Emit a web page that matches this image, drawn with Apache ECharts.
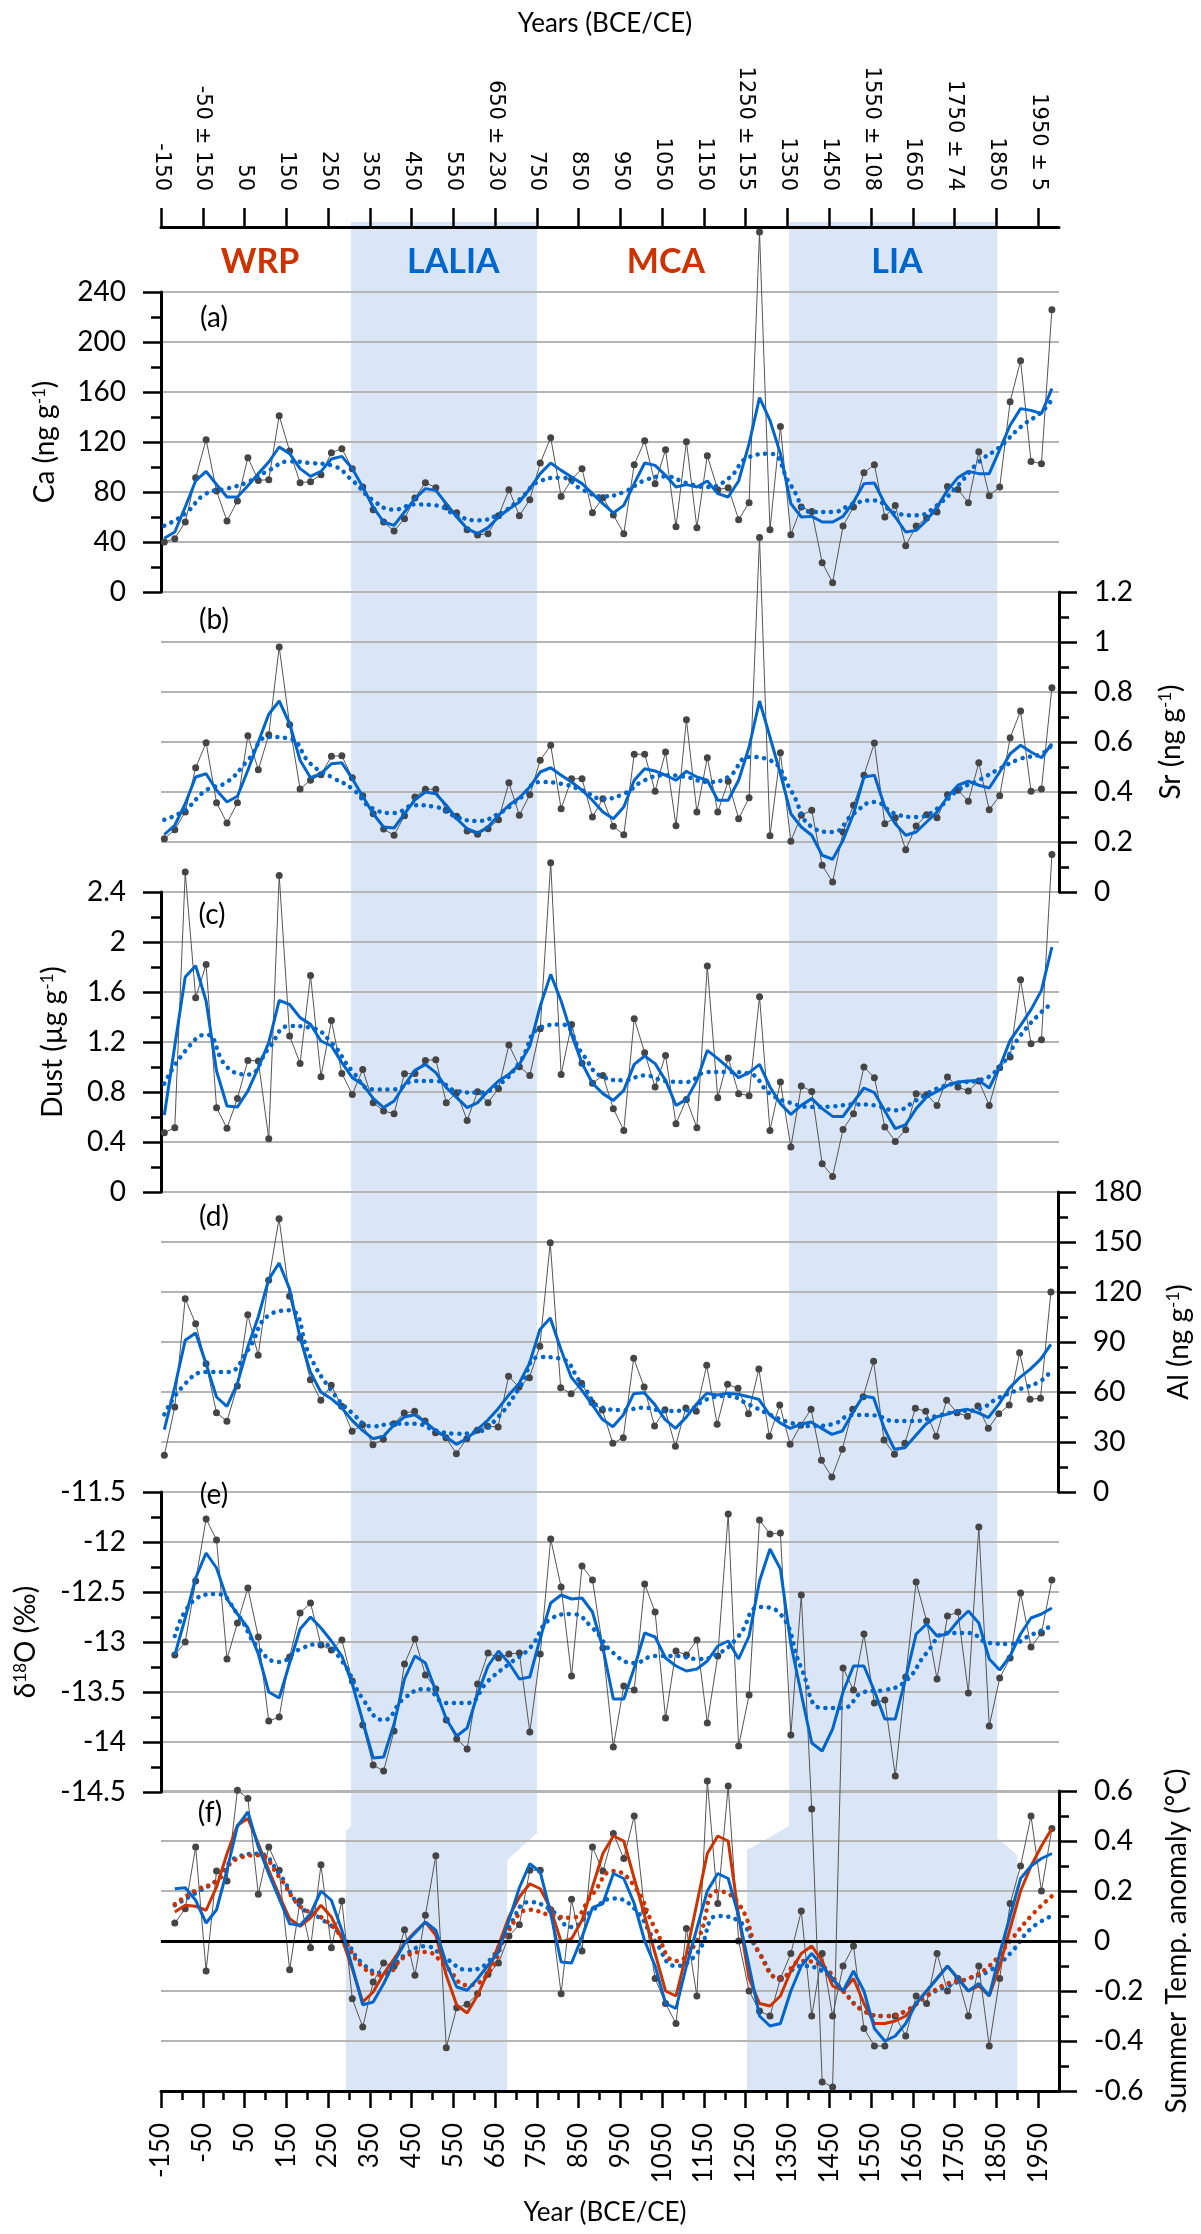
<!DOCTYPE html>
<html>
<head>
<meta charset="utf-8">
<script src="https://cdn.jsdelivr.net/npm/echarts@6/dist/echarts.min.js"></script>
<style>
  html, body { margin: 0; padding: 0; background: #fff; }
  #chart { width: 1201px; height: 2234px; }
</style>
</head>
<body>
<div id="chart"></div>
<script>
// sample years (25-yr means)
const years = [-142, -117, -92, -67, -42, -17, 8, 33, 58, 83, 108, 133, 158, 183, 208, 233, 258, 283, 308, 333,
  358, 383, 408, 433, 458, 483, 508, 533, 558, 583, 608, 633, 658, 683, 708, 733, 758, 783, 808, 833,
  858, 883, 908, 933, 958, 983, 1008, 1033, 1058, 1083, 1108, 1133, 1158, 1183, 1208, 1233, 1258, 1283, 1308, 1333,
  1358, 1383, 1408, 1433, 1458, 1483, 1508, 1533, 1558, 1583, 1608, 1633, 1658, 1683, 1708, 1733, 1758, 1783, 1808, 1833,
  1858, 1883, 1908, 1933, 1958, 1983];
// positions where the long-term trend curves were read
const evenYears = [-142, -92, -42, 8, 58, 108, 158, 208, 258, 308, 358, 408, 458, 508, 558, 608, 658, 708, 758, 808,
  858, 908, 958, 1008, 1058, 1108, 1158, 1208, 1258, 1308, 1358, 1408, 1458, 1508, 1558, 1608, 1658, 1708, 1758, 1808,
  1858, 1908, 1958, 1983];
const oddYears = [-117, -67, -17, 33, 83, 133, 183, 233, 283, 333, 383, 433, 483, 533, 583, 633, 683, 733, 783, 833,
  883, 933, 983, 1033, 1083, 1133, 1183, 1233, 1283, 1333, 1383, 1433, 1483, 1533, 1583, 1633, 1683, 1733, 1783, 1833,
  1883, 1933, 1983];

// axis ticks
const tickYears = [-150, -50, 50, 150, 250, 350, 450, 550, 650, 750, 850, 950, 1050, 1150, 1250, 1350, 1450, 1550, 1650, 1750, 1850, 1950];
const topTickLabels = ['-150', '-50 ± 150', '50', '150', '250', '350', '450', '550', '650 ± 230', '750', '850', '950',
  '1050', '1150', '1250 ± 155', '1350', '1450', '1550 ± 108', '1650', '1750 ± 74', '1850', '1950 ± 5'];
const minorTickYears = [-100, 0, 100, 200, 300, 400, 500, 600, 700, 800, 900, 1000, 1100, 1200, 1300, 1400, 1500, 1600, 1700, 1800, 1900];

// (a) Ca
const caRaw = [40, 42.7, 56, 91.5, 121.9, 80.8, 56.8, 72.8, 107.5, 89.3,
  89.9, 141, 112.8, 87.5, 88.3, 93.9, 111.5, 114.7, 98.7, 84,
  65.9, 56, 48.8, 58.7, 75.2, 87.5, 83.5, 68, 63.5, 49.9,
  45.6, 46.7, 61, 81.9, 61, 73.9, 103.2, 123.5, 76.5, 90,
  98.7, 63.5, 75.5, 61.6, 46.7, 101.9, 121, 86.7, 113.9, 52.3,
  120.3, 51.5, 109, 81.9, 83.5, 57.9, 71.5, 288, 49.9, 132.5,
  45.9, 68, 64.5, 23.5, 7.5, 52.8, 68, 95.5, 101.9, 60,
  69.3, 37, 52.8, 59.2, 64, 84.5, 82.1, 71.5, 112.3, 77,
  84, 152.3, 185, 104.5, 102.7, 225.9];
const caSmooth = [43, 48, 68, 89, 96.5, 86, 76, 76, 85, 94.7,
  104, 116, 110.7, 98.7, 92.5, 96.5, 106.4, 108.5, 98.7, 84,
  68, 56, 53.3, 64, 74.7, 82.7, 81.3, 70.7, 60, 50.7,
  46.7, 51.5, 60, 66.4, 72, 82.7, 94.7, 103.2, 97.3, 92,
  86.7, 78.7, 70.7, 63.2, 69.3, 86.7, 103.2, 101.3, 93.3, 84,
  85.9, 84, 88.8, 78.7, 76, 88.8, 118.7, 155.5, 137.3, 110.7,
  70.7, 60, 60.5, 56, 56, 60.5, 72, 86.7, 87.2, 70.7,
  60, 48, 49.3, 57.3, 68, 81.3, 91.5, 96.5, 94.7, 94.7,
  113.9, 133.4, 146.7, 145.3, 142.7, 162.7];
const caTrend = [53, 62.7, 78.7, 82.7, 88, 97.3, 104.5, 103.2, 101.3, 89.3,
  73.3, 65.9, 70.1, 69.3, 61.3, 57.3, 62.1, 73.9, 88.8, 91.5,
  82, 76.5, 80, 89.3, 92.5, 87.2, 84, 90.7, 108, 110.7,
  85.3, 64, 64, 70.7, 73.3, 63.2, 61.3, 69.3, 85.3, 104,
  116, 132, 144, 154];

// (b) Sr
const srRaw = [0.213, 0.249, 0.32, 0.497, 0.597, 0.357, 0.276, 0.357, 0.625, 0.489,
  0.629, 0.98, 0.669, 0.412, 0.447, 0.469, 0.543, 0.545, 0.457, 0.385,
  0.313, 0.252, 0.227, 0.305, 0.38, 0.411, 0.411, 0.327, 0.303, 0.244,
  0.231, 0.253, 0.289, 0.437, 0.307, 0.389, 0.527, 0.587, 0.333, 0.453,
  0.453, 0.3, 0.373, 0.263, 0.229, 0.551, 0.551, 0.403, 0.56, 0.265,
  0.689, 0.32, 0.537, 0.32, 0.443, 0.293, 0.377, 1.418, 0.225, 0.557,
  0.203, 0.307, 0.327, 0.107, 0.04, 0.24, 0.347, 0.467, 0.596, 0.273,
  0.297, 0.169, 0.264, 0.309, 0.297, 0.389, 0.407, 0.363, 0.517, 0.329,
  0.385, 0.617, 0.724, 0.403, 0.412, 0.817];
const srSmooth = [0.23, 0.267, 0.353, 0.46, 0.473, 0.407, 0.36, 0.383, 0.487, 0.6,
  0.711, 0.764, 0.673, 0.527, 0.457, 0.473, 0.513, 0.517, 0.453, 0.383,
  0.313, 0.26, 0.256, 0.313, 0.369, 0.4, 0.393, 0.347, 0.293, 0.253,
  0.236, 0.26, 0.307, 0.347, 0.377, 0.42, 0.48, 0.497, 0.467, 0.44,
  0.407, 0.367, 0.32, 0.293, 0.34, 0.447, 0.493, 0.484, 0.467, 0.447,
  0.483, 0.46, 0.447, 0.367, 0.367, 0.447, 0.58, 0.764, 0.62, 0.473,
  0.313, 0.26, 0.227, 0.147, 0.131, 0.207, 0.313, 0.46, 0.467, 0.34,
  0.273, 0.227, 0.24, 0.28, 0.32, 0.38, 0.427, 0.443, 0.427, 0.416,
  0.48, 0.553, 0.587, 0.56, 0.537, 0.593];
const srTrend = [0.289, 0.329, 0.407, 0.44, 0.527, 0.62, 0.613, 0.513, 0.46, 0.413,
  0.333, 0.316, 0.347, 0.34, 0.3, 0.284, 0.313, 0.373, 0.44, 0.433,
  0.407, 0.373, 0.393, 0.447, 0.467, 0.46, 0.44, 0.46, 0.54, 0.527,
  0.407, 0.26, 0.24, 0.313, 0.36, 0.313, 0.3, 0.333, 0.407, 0.447,
  0.493, 0.533, 0.553, 0.589];

// (c) Dust
const dustRaw = [0.475, 0.515, 2.56, 1.555, 1.82, 0.675, 0.51, 0.749, 1.053, 1.048,
  0.427, 2.533, 1.248, 1.029, 1.733, 0.923, 1.373, 0.949, 0.781, 0.981,
  0.715, 0.648, 0.627, 0.947, 0.949, 1.053, 1.059, 0.715, 0.795, 0.573,
  0.803, 0.715, 0.827, 1.176, 1.003, 0.933, 1.307, 2.635, 0.941, 1.341,
  1.03, 0.87, 0.933, 0.667, 0.493, 1.387, 1.115, 0.84, 1.093, 0.547,
  0.741, 0.515, 1.808, 0.755, 1.072, 0.787, 0.771, 1.563, 0.493, 0.88,
  0.36, 0.848, 0.805, 0.227, 0.125, 0.501, 0.627, 1.0, 0.915, 0.52,
  0.405, 0.499, 0.787, 0.779, 0.693, 0.92, 0.84, 0.808, 0.888, 0.693,
  0.995, 1.08, 1.699, 1.187, 1.219, 2.70];
const dustSmooth = [0.616, 1.17, 1.72, 1.81, 1.528, 0.968, 0.688, 0.68, 0.808, 0.995,
  1.195, 1.533, 1.5, 1.395, 1.341, 1.208, 1.168, 1.035, 0.915, 0.861,
  0.749, 0.675, 0.728, 0.856, 0.973, 1.021, 0.955, 0.835, 0.755, 0.675,
  0.715, 0.808, 0.888, 0.941, 1.021, 1.168, 1.488, 1.741, 1.528, 1.261,
  1.03, 0.87, 0.787, 0.733, 0.813, 1.021, 1.088, 1.027, 0.893, 0.693,
  0.739, 0.893, 1.133, 1.067, 0.995, 0.915, 0.955, 1.021, 0.84, 0.707,
  0.621, 0.693, 0.747, 0.667, 0.605, 0.605, 0.72, 0.832, 0.795, 0.648,
  0.507, 0.539, 0.667, 0.76, 0.805, 0.853, 0.88, 0.888, 0.893, 0.832,
  1.0, 1.213, 1.333, 1.459, 1.613, 1.96];
const dustTrend = [0.867, 1.128, 1.26, 1.0, 0.94, 1.15, 1.328, 1.315, 1.195, 0.968,
  0.821, 0.821, 0.888, 0.888, 0.808, 0.795, 0.856, 1.035, 1.315, 1.341,
  1.11, 0.92, 0.893, 0.933, 0.888, 0.88, 0.96, 0.96, 0.947, 0.787,
  0.712, 0.68, 0.685, 0.701, 0.693, 0.653, 0.733, 0.827, 0.872, 0.893,
  1.0, 1.253, 1.44, 1.507];

// (d) Al
const alRaw = [22, 51, 116, 101, 77, 47.6, 42.4, 63.6, 106.4, 82,
  127, 164, 117.4, 92.4, 67.4, 55, 64, 51.4, 36.4, 40.4,
  28.4, 31.6, 41, 47.4, 48.4, 42.6, 35.6, 32.6, 23, 32,
  37, 39.4, 39, 69.4, 63, 68.6, 87.4, 149.6, 62.6, 59,
  65.3, 53.7, 49.2, 29.2, 32.6, 80.2, 63, 39.6, 49.4, 27.4,
  50.4, 48.4, 76, 40.6, 64.6, 62.2, 47, 73.8, 33.4, 52.2,
  28.6, 40, 49.6, 19, 9, 25.6, 49.6, 57.2, 78.4, 31.2,
  22.6, 29.2, 50.2, 48.4, 33.4, 55, 47.6, 45.4, 51.6, 38.2,
  47, 52.2, 83.6, 55.6, 56.2, 120];
const alSmooth = [37.4, 63, 91, 95.4, 77, 57, 51.4, 65, 87, 105,
  127.4, 137.4, 122, 93, 72, 60, 56, 50.6, 43, 37,
  32, 33.4, 40, 45, 46.4, 42, 37, 33, 28.6, 32,
  37.4, 43, 50, 58, 65, 77, 97.4, 104.4, 86, 69,
  61.3, 52.6, 43.6, 39.2, 46.2, 59, 59.6, 52.6, 43.6, 38.2,
  44.6, 52.6, 59.2, 58.2, 59.2, 58.6, 57.2, 55.6, 46.6, 41.6,
  38.2, 40.6, 42, 38.2, 34.6, 36.6, 47.6, 57.6, 56.6, 38.6,
  25.6, 26.6, 33.6, 40.6, 45, 46.6, 48.6, 49.6, 47.6, 44.6,
  52.6, 62.2, 68.6, 73.6, 79.6, 88.6];
const alTrend = [46.6, 65, 72, 72, 85, 106, 109, 81, 61, 47.4,
  39.4, 41, 41, 37, 35, 36, 45, 62, 81, 80,
  65, 50.6, 49.2, 50.6, 48.6, 49, 55.6, 57.6, 52.6, 46.6,
  41.6, 39.6, 40.6, 46.2, 46, 42.6, 42.6, 45.6, 48.2, 49.6,
  56.6, 61.6, 66.6, 72.6];

// (e) d18O
const d18oRaw = [null, -13.13, -13.0, -12.39, -11.77, -11.98, -13.17, -12.81, -12.46, -12.95,
  -13.79, -13.75, -13.15, -12.71, -12.61, -13.03, -13.08, -12.98, -13.39, -13.83,
  -14.23, -14.29, -13.89, -13.22, -12.97, -13.33, -13.47, -13.78, -13.97, -14.07,
  -13.42, -13.11, -13.16, -13.12, -13.11, -13.9, -13.12, -11.97, -12.45, -13.34,
  -12.24, -12.38, -13.06, -14.05, -13.44, -13.48, -12.42, -12.7, -13.76, -13.09,
  -13.13, -12.98, -13.81, -13.14, -11.72, -14.04, -13.53, -11.78, -11.92, -11.91,
  -13.93, -12.53, -14.67, -17.4, -17.45, -13.26, -13.48, -12.92, -13.61, -13.58,
  -14.34, -13.35, -12.4, -12.79, -13.37, -12.74, -12.7, -13.51, -11.85, -13.84,
  -13.36, -13.16, -12.51, -13.05, -12.91, -12.38];
const d18oSmooth = [null, -13.13, -12.76, -12.36, -12.11, -12.26, -12.57, -12.72, -12.86, -13.12,
  -13.5, -13.56, -13.21, -12.87, -12.75, -12.86, -12.99, -13.14, -13.42, -13.79,
  -14.16, -14.15, -13.82, -13.37, -13.14, -13.21, -13.49, -13.77, -13.94, -13.86,
  -13.52, -13.24, -13.09, -13.21, -13.37, -13.35, -12.96, -12.61, -12.53, -12.57,
  -12.56, -12.7, -13.06, -13.57, -13.57, -13.26, -12.91, -12.95, -13.16, -13.24,
  -13.29, -13.27, -13.19, -13.04, -12.99, -13.17, -12.94, -12.39, -12.07, -12.27,
  -13.02, -13.52, -14.01, -14.09, -13.87, -13.5, -13.24, -13.24, -13.49, -13.77,
  -13.77, -13.36, -12.92, -12.82, -12.94, -12.92, -12.79, -12.69, -12.81, -13.17,
  -13.28, -13.14, -12.92, -12.76, -12.72, -12.66];
const d18oTrend = [-12.94, -12.57, -12.52, -12.72, -13.06, -13.2, -13.07, -13.02, -13.19, -13.57,
  -13.78, -13.56, -13.47, -13.61, -13.61, -13.39, -13.22, -13.06, -12.77, -12.72,
  -12.86, -13.11, -13.21, -13.14, -13.14, -13.17, -13.12, -12.94, -12.65, -12.72,
  -13.26, -13.66, -13.66, -13.5, -13.48, -13.39, -13.11, -12.91, -12.91, -13.01,
  -13.02, -12.93, -12.84];

// (f) summer temperature anomaly
const tempRaw = [null, 0.072, 0.129, 0.376, -0.12, 0.28, 0.24, 0.603, 0.57, 0.187,
  0.376, 0.283, -0.115, 0.16, -0.027, 0.305, -0.027, 0.16, -0.231, -0.344,
  -0.164, -0.088, -0.101, 0.045, -0.137, 0.103, 0.341, -0.427, -0.267, -0.253,
  -0.211, -0.133, -0.088, 0.02, 0.065, 0.283, 0.283, 0.125, -0.211, 0.167,
  -0.04, 0.376, 0.28, 0.43, 0.33, 0.5, 0.12, -0.15, -0.25, -0.33,
  0.05, -0.22, 0.64, 0.15, 0.62, 0.0, -0.2, -0.28, -0.3, -0.15,
  -0.05, 0.12, -0.3, -0.05, -0.3, -0.1, -0.02, -0.35, -0.42, -0.42,
  -0.3, -0.38, -0.22, -0.25, -0.05, -0.2, -0.15, -0.3, -0.1, -0.42,
  -0.15, 0.15, 0.3, 0.5, 0.2, 0.45];
const tempSmoothBlue = [null, 0.209, 0.213, 0.163, 0.072, 0.125, 0.283, 0.459, 0.516, 0.376,
  0.269, 0.169, 0.069, 0.063, 0.109, 0.2, 0.163, 0.043, -0.104, -0.255,
  -0.244, -0.171, -0.084, -0.011, 0.032, 0.076, 0.043, -0.091, -0.184, -0.197,
  -0.151, -0.097, -0.044, 0.083, 0.213, 0.309, 0.276, 0.109, -0.084, -0.088,
  0.016, 0.133, 0.15, 0.27, 0.25, 0.15, 0.0, -0.1, -0.25, -0.27,
  -0.1, 0.05, 0.2, 0.27, 0.25, 0.1, -0.1, -0.3, -0.34, -0.33,
  -0.2, -0.1, -0.05, -0.1, -0.15, -0.2, -0.12, -0.2, -0.35, -0.4,
  -0.38, -0.33, -0.25, -0.2, -0.15, -0.1, -0.15, -0.2, -0.17, -0.22,
  -0.05, 0.1, 0.25, 0.3, 0.33, 0.35];
const tempSmoothRed = [null, 0.116, 0.143, 0.139, 0.123, 0.216, 0.349, 0.463, 0.49, 0.389,
  0.283, 0.183, 0.089, 0.059, 0.093, 0.143, 0.096, 0.009, -0.111, -0.244,
  -0.204, -0.131, -0.071, -0.008, 0.036, 0.076, 0.023, -0.137, -0.257, -0.288,
  -0.217, -0.124, -0.017, 0.096, 0.176, 0.229, 0.209, 0.129, -0.004, 0.009,
  0.083, 0.216, 0.35, 0.42, 0.4, 0.25, 0.1, -0.05, -0.2, -0.22,
  -0.05, 0.15, 0.35, 0.42, 0.4, 0.1, -0.15, -0.25, -0.26, -0.22,
  -0.12, -0.05, -0.02, -0.08, -0.18, -0.2, -0.15, -0.25, -0.33, -0.33,
  -0.32, -0.3, -0.25, -0.2, -0.15, -0.1, -0.15, -0.2, -0.18, -0.22,
  -0.1, 0.05, 0.2, 0.3, 0.38, 0.45];
const tempTrendBlue = [0.143, 0.192, 0.243, 0.336, 0.349, 0.269, 0.139, 0.089, 0.023, -0.091,
  -0.128, -0.057, -0.021, -0.071, -0.115, -0.084, 0.056, 0.156, 0.125, 0.056,
  0.123, 0.17, 0.13, 0.0, -0.1, -0.05, 0.1, 0.08, -0.05, -0.15,
  -0.1, -0.12, -0.2, -0.28, -0.3, -0.28, -0.22, -0.18, -0.15, -0.12,
  -0.05, 0.05, 0.1];
const tempTrendRed = [0.147, 0.203, 0.24, 0.329, 0.343, 0.256, 0.139, 0.096, 0.016, -0.104,
  -0.137, -0.064, -0.044, -0.104, -0.177, -0.131, 0.043, 0.125, 0.103, 0.093,
  0.187, 0.28, 0.22, 0.05, -0.08, 0.0, 0.2, 0.15, -0.05, -0.15,
  -0.08, -0.1, -0.2, -0.28, -0.3, -0.28, -0.22, -0.17, -0.15, -0.1,
  0.0, 0.1, 0.18];

// climate periods
const periodNames = ['WRP', 'LALIA', 'MCA', 'LIA'];
const periodLabelYears = [87, 550, 1059, 1612];
const bandUpperYears = [[305, 750], [1354, 1852]];   // panels a-e
const bandLowerYears = [[293, 679], [1253, 1900]];   // panel f

const FONT = 'Lato';
const BLUE = '#0066cc';
const RED = '#cc3300';

const chart = echarts.init(document.getElementById('chart'), null, { renderer: 'canvas' });

const panelTops = [292, 592, 892, 1192, 1492, 1791];
const grids = panelTops.map(t => ({ left: 161, top: t, width: 898, height: 300 }));

function pairs(xs, vs) {
  return xs.map((x, i) => [x, vs[i]]).filter(p => p[1] !== null);
}

function xAx(gridIndex, extra) {
  return Object.assign({
    type: 'value', gridIndex: gridIndex, min: -150, max: 2000, show: false,
    splitLine: { show: false }
  }, extra || {});
}

const blackLine = { color: '#000', width: 3 };

const xAxes = [
  xAx(0, {
    show: true, position: 'top', offset: 65,
    axisLine: { onZero: false, lineStyle: blackLine },
    axisTick: { length: 19, customValues: tickYears, lineStyle: { color: '#000', width: 2.5 } },
    axisLabel: {
      customValues: tickYears, rotate: 90, margin: 36, fontFamily: 'DejaVu Sans', fontSize: 21, color: '#000',
      formatter: v => topTickLabels[tickYears.indexOf(v)]
    }
  }),
  xAx(1), xAx(2), xAx(3), xAx(4),
  xAx(5, {
    show: true, position: 'bottom',
    axisLine: { onZero: false, lineStyle: blackLine },
    axisTick: { length: 17, customValues: tickYears, lineStyle: { color: '#000', width: 2.5 } },
    axisLabel: {
      customValues: tickYears, rotate: 90, margin: 32, fontFamily: FONT, fontSize: 26, color: '#000',
      formatter: v => String(v)
    }
  }),
  xAx(5, {
    show: true, position: 'bottom',
    axisLine: { show: false, onZero: false },
    axisTick: { length: 9, customValues: minorTickYears, lineStyle: { color: '#000', width: 2.5 } },
    axisLabel: { show: false }
  })
];

function yAx(gridIndex, position, min, max, interval, name, nameGap) {
  return {
    type: 'value', gridIndex: gridIndex, position: position, min: min, max: max, interval: interval,
    axisLine: { show: true, onZero: false, lineStyle: blackLine },
    axisTick: { show: true, length: 18, lineStyle: { color: '#000', width: 2.5 } },
    minorTick: { show: true, splitNumber: 2, length: 10, lineStyle: { color: '#000', width: 2.5 } },
    axisLabel: { margin: 35, fontFamily: FONT, fontSize: 28, color: '#000' },
    splitLine: { show: true, lineStyle: { color: '#b5b5b5', width: 2 } },
    name: name, nameLocation: 'middle', nameRotate: 90, nameGap: nameGap,
    nameTextStyle: {
      fontFamily: FONT, fontSize: 28, color: '#000',
      rich: { sup: { fontFamily: FONT, fontSize: 17, color: '#000', verticalAlign: 'top' } }
    }
  };
}

const yAxes = [
  yAx(0, 'left', 0, 240, 40, 'Ca (ng g{sup|-1})', 102),
  yAx(1, 'right', 0, 1.2, 0.2, 'Sr (ng g{sup|-1})', 98),
  yAx(2, 'left', 0, 2.4, 0.4, 'Dust (µg g{sup|-1})', 94),
  yAx(3, 'right', 0, 180, 30, 'Al (ng g{sup|-1})', 107),
  yAx(4, 'left', -14.5, -11.5, 0.5, 'δ{sup|18}O (‰)', 121),
  yAx(5, 'right', -0.6, 0.6, 0.2, 'Summer Temp. anomaly (°C)', 104)
];

function rawSeries(i, vals) {
  return {
    type: 'line', xAxisIndex: i, yAxisIndex: i, data: pairs(years, vals),
    symbol: 'circle', symbolSize: 7, showSymbol: true,
    itemStyle: { color: '#454545' }, lineStyle: { color: '#555', width: 1 },
    clip: false, z: 2, silent: true
  };
}
function solidSeries(i, vals, color, z) {
  return {
    type: 'line', xAxisIndex: i, yAxisIndex: i, data: pairs(years, vals),
    symbol: 'none', lineStyle: { color: color, width: 3 }, clip: false, z: z, silent: true
  };
}
function dottedSeries(i, xs, vals, color) {
  return {
    type: 'line', xAxisIndex: i, yAxisIndex: i, data: pairs(xs, vals), smooth: 0.5,
    symbol: 'none', lineStyle: { color: color, width: 4.5, type: [0.1, 7.6], cap: 'round' },
    clip: false, z: 3, silent: true
  };
}

const series = [
  rawSeries(0, caRaw), dottedSeries(0, evenYears, caTrend, BLUE), solidSeries(0, caSmooth, BLUE, 5),
  rawSeries(1, srRaw), dottedSeries(1, evenYears, srTrend, BLUE), solidSeries(1, srSmooth, BLUE, 5),
  rawSeries(2, dustRaw), dottedSeries(2, evenYears, dustTrend, BLUE), solidSeries(2, dustSmooth, BLUE, 5),
  rawSeries(3, alRaw), dottedSeries(3, evenYears, alTrend, BLUE), solidSeries(3, alSmooth, BLUE, 5),
  rawSeries(4, d18oRaw), dottedSeries(4, oddYears, d18oTrend, BLUE), solidSeries(4, d18oSmooth, BLUE, 5),
  rawSeries(5, tempRaw),
  dottedSeries(5, oddYears, tempTrendBlue, BLUE),
  dottedSeries(5, oddYears, tempTrendRed, RED),
  solidSeries(5, tempSmoothRed, RED, 4),
  Object.assign(solidSeries(5, tempSmoothBlue, BLUE, 5), {
    markLine: {
      silent: true, symbol: ['none', 'none'], label: { show: false },
      lineStyle: { color: '#000', width: 3, type: 'solid' },
      data: [{ yAxis: 0 }]
    }
  })
];

chart.setOption({
  animation: false,
  backgroundColor: '#fff',
  grid: grids,
  xAxis: xAxes,
  yAxis: yAxes,
  series: series
});

// shaded cold periods, labels and titles
const px = y => chart.convertToPixel({ xAxisIndex: 0 }, y);
const BAND_TOP = 222, BAND_BOTTOM = 2090;
const kinks = [
  { left: [1826, 1831], right: [1833, 1860] },
  { left: [1826, 1850], right: [1838, 1855] }
];
const graphics = [];
bandUpperYears.forEach((b, i) => {
  const lo = bandLowerYears[i];
  const k = kinks[i];
  graphics.push({
    type: 'polygon', z: -10, silent: true,
    shape: {
      points: [
        [px(b[0]), BAND_TOP], [px(b[1]), BAND_TOP],
        [px(b[1]), k.right[0]], [px(lo[1]), k.right[1]], [px(lo[1]), BAND_BOTTOM],
        [px(lo[0]), BAND_BOTTOM], [px(lo[0]), k.left[1]], [px(b[0]), k.left[0]]
      ]
    },
    style: { fill: '#dae6f6' }
  });
});
periodNames.forEach((n, i) => {
  graphics.push({
    type: 'text', x: px(periodLabelYears[i]), y: 262, z: 10, silent: true,
    style: {
      text: n, font: 'bold 34px Lato', fill: i % 2 === 0 ? RED : BLUE,
      textAlign: 'center', textVerticalAlign: 'middle'
    }
  });
});
const panelLetters = ['(a)', '(b)', '(c)', '(d)', '(e)', '(f)'];
const letterPos = [[214, 318], [214, 620], [212, 915], [214, 1217], [214, 1495], [210, 1813]];
panelLetters.forEach((t, i) => {
  graphics.push({
    type: 'text', x: letterPos[i][0], y: letterPos[i][1], z: 10, silent: true,
    style: { text: t, font: '28px Lato', fill: '#000', textAlign: 'center', textVerticalAlign: 'middle' }
  });
});
graphics.push({
  type: 'text', x: 605, y: 24, z: 10, silent: true,
  style: { text: 'Years (BCE/CE)', font: '26px Lato', fill: '#000', textAlign: 'center', textVerticalAlign: 'middle' }
});
graphics.push({
  type: 'text', x: 605, y: 2213, z: 10, silent: true,
  style: { text: 'Year (BCE/CE)', font: '26px Lato', fill: '#000', textAlign: 'center', textVerticalAlign: 'middle' }
});

chart.setOption({ graphic: graphics });
</script>
</body>
</html>
